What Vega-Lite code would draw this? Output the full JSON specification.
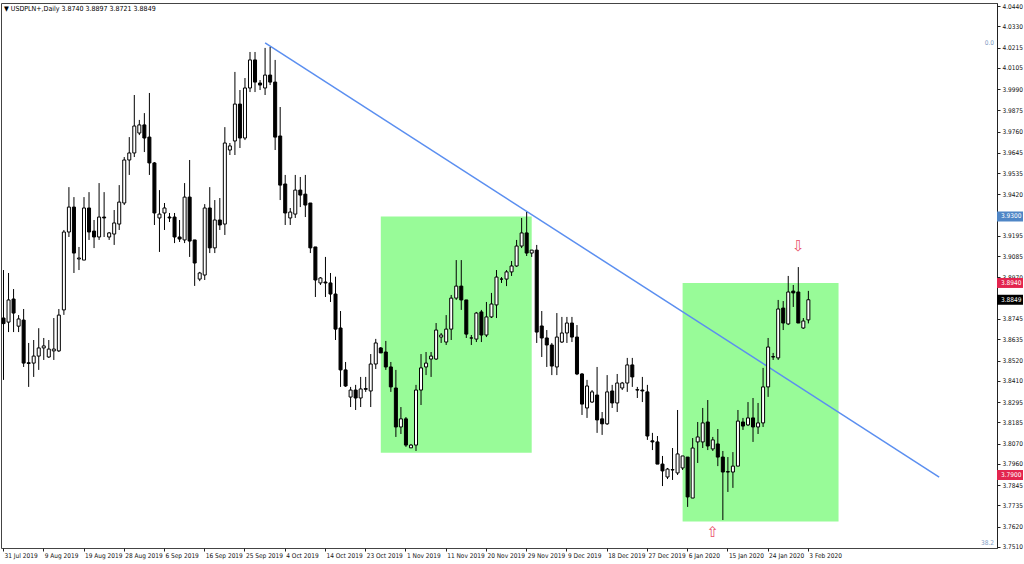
{
  "$schema": "https://vega.github.io/schema/vega-lite/v6.json",
  "width": 996,
  "height": 545,
  "autosize": {"type": "none"},
  "padding": {"left": 1, "top": 3, "right": 27, "bottom": 16},
  "background": "white",
  "title": {
    "text": "▼ USDPLN+,Daily  3.8740 3.8897 3.8721 3.8849",
    "anchor": "start",
    "orient": "top",
    "baseline": "top",
    "offset": -9,
    "dx": 3,
    "font": "DejaVu Sans Condensed, Liberation Sans Narrow, Liberation Sans",
    "fontSize": 7,
    "fontWeight": "normal",
    "color": "#000"
  },
  "config": {
    "view": {"stroke": "#444", "strokeWidth": 1},
    "axis": {
      "labelFont": "DejaVu Sans Condensed, Liberation Sans Narrow, Liberation Sans",
      "labelFontSize": 6.5,
      "labelColor": "#111",
      "tickColor": "#222",
      "domainColor": "#222",
      "grid": false,
      "title": null,
      "labelOverlap": false
    },
    "axisY": {"labelOverlap": false, "labelFontSize": 6.5},
    "axisX": {"labelOverlap": false, "labelFontSize": 6.5}
  },
  "datasets": {
    "candles": [
      {"d":"31 Jul 2019","o":3.8750,"h":3.9010,"l":3.8415,"c":3.8720},
      {"d":"1 Aug 2019","o":3.8728,"h":3.8994,"l":3.8674,"c":3.8848},
      {"d":"2 Aug 2019","o":3.8853,"h":3.8907,"l":3.8674,"c":3.8777},
      {"d":"4 Aug 2019","o":3.8706,"h":3.8766,"l":3.8674,"c":3.8745},
      {"d":"5 Aug 2019","o":3.8739,"h":3.8799,"l":3.8485,"c":3.8506},
      {"d":"6 Aug 2019","o":3.8508,"h":3.8615,"l":3.8377,"c":3.8504},
      {"d":"7 Aug 2019","o":3.8506,"h":3.8631,"l":3.8431,"c":3.8544},
      {"d":"8 Aug 2019","o":3.8544,"h":3.8695,"l":3.8469,"c":3.8588},
      {"d":"9 Aug 2019","o":3.8588,"h":3.8642,"l":3.8523,"c":3.8599},
      {"d":"11 Aug 2019","o":3.8539,"h":3.8631,"l":3.8534,"c":3.8582},
      {"d":"12 Aug 2019","o":3.8572,"h":3.8750,"l":3.8523,"c":3.8582},
      {"d":"13 Aug 2019","o":3.8572,"h":3.8799,"l":3.8566,"c":3.8766},
      {"d":"14 Aug 2019","o":3.8794,"h":3.9227,"l":3.8767,"c":3.9216},
      {"d":"15 Aug 2019","o":3.9216,"h":3.9459,"l":3.9189,"c":3.9351},
      {"d":"16 Aug 2019","o":3.9351,"h":3.9405,"l":3.8994,"c":3.9102},
      {"d":"18 Aug 2019","o":3.9070,"h":3.9135,"l":3.9010,"c":3.9075},
      {"d":"19 Aug 2019","o":3.9064,"h":3.9405,"l":3.9064,"c":3.9346},
      {"d":"20 Aug 2019","o":3.9346,"h":3.9432,"l":3.9173,"c":3.9216},
      {"d":"21 Aug 2019","o":3.9221,"h":3.9281,"l":3.9129,"c":3.9189},
      {"d":"22 Aug 2019","o":3.9189,"h":3.9481,"l":3.9173,"c":3.9297},
      {"d":"23 Aug 2019","o":3.9297,"h":3.9432,"l":3.9189,"c":3.9292},
      {"d":"25 Aug 2019","o":3.9189,"h":3.9216,"l":3.9173,"c":3.9211},
      {"d":"26 Aug 2019","o":3.9205,"h":3.9335,"l":3.9146,"c":3.9265},
      {"d":"27 Aug 2019","o":3.9259,"h":3.9470,"l":3.9227,"c":3.9378},
      {"d":"28 Aug 2019","o":3.9373,"h":3.9622,"l":3.9362,"c":3.9606},
      {"d":"29 Aug 2019","o":3.9606,"h":3.9730,"l":3.9525,"c":3.9644},
      {"d":"30 Aug 2019","o":3.9644,"h":3.9958,"l":3.9622,"c":3.9790},
      {"d":"1 Sep 2019","o":3.9752,"h":3.9823,"l":3.9741,"c":3.9796},
      {"d":"2 Sep 2019","o":3.9796,"h":3.9860,"l":3.9649,"c":3.9725},
      {"d":"3 Sep 2019","o":3.9730,"h":3.9969,"l":3.9525,"c":3.9590},
      {"d":"4 Sep 2019","o":3.9590,"h":3.9595,"l":3.9254,"c":3.9319},
      {"d":"5 Sep 2019","o":3.9292,"h":3.9443,"l":3.9108,"c":3.9313},
      {"d":"6 Sep 2019","o":3.9319,"h":3.9373,"l":3.9227,"c":3.9346},
      {"d":"8 Sep 2019","o":3.9297,"h":3.9319,"l":3.9270,"c":3.9292},
      {"d":"9 Sep 2019","o":3.9297,"h":3.9319,"l":3.9156,"c":3.9189},
      {"d":"10 Sep 2019","o":3.9189,"h":3.9281,"l":3.9162,"c":3.9178},
      {"d":"11 Sep 2019","o":3.9173,"h":3.9481,"l":3.9156,"c":3.9405},
      {"d":"12 Sep 2019","o":3.9405,"h":3.9606,"l":3.9081,"c":3.9167},
      {"d":"13 Sep 2019","o":3.9173,"h":3.9173,"l":3.8924,"c":3.9048},
      {"d":"15 Sep 2019","o":3.8961,"h":3.9000,"l":3.8950,"c":3.8994},
      {"d":"16 Sep 2019","o":3.8983,"h":3.9367,"l":3.8956,"c":3.9346},
      {"d":"17 Sep 2019","o":3.9346,"h":3.9459,"l":3.9102,"c":3.9130},
      {"d":"18 Sep 2019","o":3.9130,"h":3.9389,"l":3.9102,"c":3.9281},
      {"d":"19 Sep 2019","o":3.9281,"h":3.9400,"l":3.9227,"c":3.9254},
      {"d":"20 Sep 2019","o":3.9259,"h":3.9784,"l":3.9200,"c":3.9698},
      {"d":"22 Sep 2019","o":3.9660,"h":3.9698,"l":3.9633,"c":3.9682},
      {"d":"23 Sep 2019","o":3.9709,"h":4.0083,"l":3.9633,"c":3.9909},
      {"d":"24 Sep 2019","o":3.9909,"h":3.9985,"l":3.9671,"c":3.9725},
      {"d":"25 Sep 2019","o":3.9725,"h":4.0050,"l":3.9714,"c":3.9996},
      {"d":"26 Sep 2019","o":3.9996,"h":4.0191,"l":3.9974,"c":4.0148},
      {"d":"27 Sep 2019","o":4.0148,"h":4.0191,"l":3.9974,"c":4.0028},
      {"d":"29 Sep 2019","o":4.0023,"h":4.0039,"l":3.9985,"c":4.0012},
      {"d":"30 Sep 2019","o":3.9996,"h":4.0213,"l":3.9958,"c":4.0066},
      {"d":"1 Oct 2019","o":4.0066,"h":4.0218,"l":4.0012,"c":4.0028},
      {"d":"2 Oct 2019","o":4.0028,"h":4.0148,"l":3.9660,"c":3.9730},
      {"d":"3 Oct 2019","o":3.9736,"h":3.9893,"l":3.9389,"c":3.9470},
      {"d":"4 Oct 2019","o":3.9476,"h":3.9525,"l":3.9254,"c":3.9319},
      {"d":"6 Oct 2019","o":3.9292,"h":3.9346,"l":3.9254,"c":3.9324},
      {"d":"7 Oct 2019","o":3.9313,"h":3.9525,"l":3.9292,"c":3.9443},
      {"d":"8 Oct 2019","o":3.9443,"h":3.9514,"l":3.9351,"c":3.9416},
      {"d":"9 Oct 2019","o":3.9421,"h":3.9525,"l":3.9297,"c":3.9362},
      {"d":"10 Oct 2019","o":3.9373,"h":3.9373,"l":3.9102,"c":3.9130},
      {"d":"11 Oct 2019","o":3.9135,"h":3.9135,"l":3.8864,"c":3.8956},
      {"d":"13 Oct 2019","o":3.8940,"h":3.8972,"l":3.8929,"c":3.8967},
      {"d":"14 Oct 2019","o":3.8945,"h":3.9081,"l":3.8864,"c":3.8940},
      {"d":"15 Oct 2019","o":3.8940,"h":3.8994,"l":3.8837,"c":3.8880},
      {"d":"16 Oct 2019","o":3.8880,"h":3.8974,"l":3.8631,"c":3.8690},
      {"d":"17 Oct 2019","o":3.8696,"h":3.8788,"l":3.8377,"c":3.8469},
      {"d":"18 Oct 2019","o":3.8469,"h":3.8512,"l":3.8377,"c":3.8382},
      {"d":"20 Oct 2019","o":3.8322,"h":3.8377,"l":3.8268,"c":3.8360},
      {"d":"21 Oct 2019","o":3.8360,"h":3.8388,"l":3.8252,"c":3.8317},
      {"d":"22 Oct 2019","o":3.8317,"h":3.8431,"l":3.8268,"c":3.8366},
      {"d":"23 Oct 2019","o":3.8368,"h":3.8431,"l":3.8350,"c":3.8364},
      {"d":"24 Oct 2019","o":3.8355,"h":3.8555,"l":3.8268,"c":3.8501},
      {"d":"25 Oct 2019","o":3.8501,"h":3.8637,"l":3.8474,"c":3.8615},
      {"d":"27 Oct 2019","o":3.8588,"h":3.8593,"l":3.8561,"c":3.8561},
      {"d":"28 Oct 2019","o":3.8566,"h":3.8626,"l":3.8469,"c":3.8485},
      {"d":"29 Oct 2019","o":3.8485,"h":3.8512,"l":3.8350,"c":3.8377},
      {"d":"30 Oct 2019","o":3.8371,"h":3.8469,"l":3.8106,"c":3.8160},
      {"d":"31 Oct 2019","o":3.8160,"h":3.8268,"l":3.8122,"c":3.8204},
      {"d":"1 Nov 2019","o":3.8204,"h":3.8214,"l":3.8052,"c":3.8062},
      {"d":"3 Nov 2019","o":3.8047,"h":3.8068,"l":3.8047,"c":3.8062},
      {"d":"4 Nov 2019","o":3.8062,"h":3.8388,"l":3.8030,"c":3.8360},
      {"d":"5 Nov 2019","o":3.8360,"h":3.8555,"l":3.8279,"c":3.8480},
      {"d":"6 Nov 2019","o":3.8485,"h":3.8566,"l":3.8441,"c":3.8506},
      {"d":"7 Nov 2019","o":3.8528,"h":3.8566,"l":3.8431,"c":3.8544},
      {"d":"8 Nov 2019","o":3.8528,"h":3.8723,"l":3.8523,"c":3.8685},
      {"d":"10 Nov 2019","o":3.8647,"h":3.8669,"l":3.8615,"c":3.8658},
      {"d":"11 Nov 2019","o":3.8620,"h":3.8766,"l":3.8604,"c":3.8690},
      {"d":"12 Nov 2019","o":3.8690,"h":3.8875,"l":3.8631,"c":3.8858},
      {"d":"13 Nov 2019","o":3.8858,"h":3.9064,"l":3.8848,"c":3.8923},
      {"d":"14 Nov 2019","o":3.8923,"h":3.9064,"l":3.8794,"c":3.8848},
      {"d":"15 Nov 2019","o":3.8848,"h":3.8848,"l":3.8642,"c":3.8663},
      {"d":"17 Nov 2019","o":3.8642,"h":3.8658,"l":3.8604,"c":3.8642},
      {"d":"18 Nov 2019","o":3.8636,"h":3.8783,"l":3.8620,"c":3.8777},
      {"d":"19 Nov 2019","o":3.8783,"h":3.8794,"l":3.8620,"c":3.8658},
      {"d":"20 Nov 2019","o":3.8658,"h":3.8837,"l":3.8647,"c":3.8756},
      {"d":"21 Nov 2019","o":3.8756,"h":3.8886,"l":3.8750,"c":3.8826},
      {"d":"22 Nov 2019","o":3.8821,"h":3.9010,"l":3.8750,"c":3.8972},
      {"d":"24 Nov 2019","o":3.8961,"h":3.8972,"l":3.8940,"c":3.8961},
      {"d":"25 Nov 2019","o":3.8961,"h":3.9010,"l":3.8923,"c":3.9000},
      {"d":"26 Nov 2019","o":3.9000,"h":3.9059,"l":3.8978,"c":3.9032},
      {"d":"27 Nov 2019","o":3.9032,"h":3.9173,"l":3.9027,"c":3.9140},
      {"d":"28 Nov 2019","o":3.9140,"h":3.9292,"l":3.9129,"c":3.9211},
      {"d":"29 Nov 2019","o":3.9211,"h":3.9324,"l":3.9086,"c":3.9102},
      {"d":"1 Dec 2019","o":3.9102,"h":3.9118,"l":3.9081,"c":3.9118},
      {"d":"2 Dec 2019","o":3.9118,"h":3.9146,"l":3.8615,"c":3.8674},
      {"d":"3 Dec 2019","o":3.8707,"h":3.8788,"l":3.8539,"c":3.8642},
      {"d":"4 Dec 2019","o":3.8642,"h":3.8685,"l":3.8485,"c":3.8604},
      {"d":"5 Dec 2019","o":3.8604,"h":3.8615,"l":3.8441,"c":3.8490},
      {"d":"6 Dec 2019","o":3.8485,"h":3.8777,"l":3.8441,"c":3.8647},
      {"d":"8 Dec 2019","o":3.8620,"h":3.8756,"l":3.8615,"c":3.8669},
      {"d":"9 Dec 2019","o":3.8669,"h":3.8756,"l":3.8615,"c":3.8723},
      {"d":"10 Dec 2019","o":3.8723,"h":3.8756,"l":3.8620,"c":3.8647},
      {"d":"11 Dec 2019","o":3.8647,"h":3.8712,"l":3.8441,"c":3.8447},
      {"d":"12 Dec 2019","o":3.8447,"h":3.8452,"l":3.8225,"c":3.8284},
      {"d":"13 Dec 2019","o":3.8263,"h":3.8415,"l":3.8209,"c":3.8382},
      {"d":"15 Dec 2019","o":3.8295,"h":3.8360,"l":3.8290,"c":3.8350},
      {"d":"16 Dec 2019","o":3.8333,"h":3.8485,"l":3.8128,"c":3.8198},
      {"d":"17 Dec 2019","o":3.8204,"h":3.8241,"l":3.8117,"c":3.8177},
      {"d":"18 Dec 2019","o":3.8177,"h":3.8441,"l":3.8171,"c":3.8350},
      {"d":"19 Dec 2019","o":3.8355,"h":3.8388,"l":3.8263,"c":3.8290},
      {"d":"20 Dec 2019","o":3.8290,"h":3.8447,"l":3.8241,"c":3.8398},
      {"d":"22 Dec 2019","o":3.8371,"h":3.8404,"l":3.8360,"c":3.8398},
      {"d":"23 Dec 2019","o":3.8398,"h":3.8534,"l":3.8350,"c":3.8496},
      {"d":"24 Dec 2019","o":3.8496,"h":3.8534,"l":3.8377,"c":3.8431},
      {"d":"25 Dec 2019","o":3.8362,"h":3.8377,"l":3.8317,"c":3.8360},
      {"d":"26 Dec 2019","o":3.8360,"h":3.8431,"l":3.8295,"c":3.8355},
      {"d":"27 Dec 2019","o":3.8350,"h":3.8388,"l":3.8090,"c":3.8111},
      {"d":"29 Dec 2019","o":3.8085,"h":3.8128,"l":3.8035,"c":3.8079},
      {"d":"30 Dec 2019","o":3.8079,"h":3.8111,"l":3.7959,"c":3.7959},
      {"d":"31 Dec 2019","o":3.7959,"h":3.8003,"l":3.7840,"c":3.7922},
      {"d":"1 Jan 2020","o":3.7889,"h":3.7938,"l":3.7878,"c":3.7932},
      {"d":"2 Jan 2020","o":3.7929,"h":3.8046,"l":3.7873,"c":3.7927},
      {"d":"3 Jan 2020","o":3.7911,"h":3.8252,"l":3.7900,"c":3.8014},
      {"d":"5 Jan 2020","o":3.7938,"h":3.8003,"l":3.7927,"c":3.8003},
      {"d":"6 Jan 2020","o":3.7997,"h":3.7997,"l":3.7727,"c":3.7781},
      {"d":"7 Jan 2020","o":3.7775,"h":3.8100,"l":3.7775,"c":3.8046},
      {"d":"8 Jan 2020","o":3.8079,"h":3.8187,"l":3.7965,"c":3.8106},
      {"d":"9 Jan 2020","o":3.8079,"h":3.8263,"l":3.8046,"c":3.8182},
      {"d":"10 Jan 2020","o":3.8187,"h":3.8306,"l":3.8035,"c":3.8057},
      {"d":"12 Jan 2020","o":3.8041,"h":3.8106,"l":3.8030,"c":3.8090},
      {"d":"13 Jan 2020","o":3.8068,"h":3.8149,"l":3.7948,"c":3.7997},
      {"d":"14 Jan 2020","o":3.7997,"h":3.8030,"l":3.7656,"c":3.7916},
      {"d":"15 Jan 2020","o":3.7918,"h":3.7997,"l":3.7808,"c":3.7916},
      {"d":"16 Jan 2020","o":3.7916,"h":3.8024,"l":3.7830,"c":3.7948},
      {"d":"17 Jan 2020","o":3.7948,"h":3.8252,"l":3.7948,"c":3.8192},
      {"d":"19 Jan 2020","o":3.8187,"h":3.8209,"l":3.8144,"c":3.8165},
      {"d":"20 Jan 2020","o":3.8171,"h":3.8295,"l":3.8165,"c":3.8209},
      {"d":"21 Jan 2020","o":3.8209,"h":3.8317,"l":3.8079,"c":3.8160},
      {"d":"22 Jan 2020","o":3.8160,"h":3.8290,"l":3.8122,"c":3.8182},
      {"d":"23 Jan 2020","o":3.8182,"h":3.8480,"l":3.8160,"c":3.8377},
      {"d":"24 Jan 2020","o":3.8377,"h":3.8642,"l":3.8323,"c":3.8593},
      {"d":"26 Jan 2020","o":3.8541,"h":3.8561,"l":3.8523,"c":3.8539},
      {"d":"27 Jan 2020","o":3.8534,"h":3.8848,"l":3.8523,"c":3.8799},
      {"d":"28 Jan 2020","o":3.8804,"h":3.8842,"l":3.8685,"c":3.8723},
      {"d":"29 Jan 2020","o":3.8718,"h":3.8978,"l":3.8712,"c":3.8891},
      {"d":"30 Jan 2020","o":3.8896,"h":3.8929,"l":3.8810,"c":3.8886},
      {"d":"31 Jan 2020","o":3.8891,"h":3.9026,"l":3.8723,"c":3.8723},
      {"d":"2 Feb 2020","o":3.8696,"h":3.8750,"l":3.8691,"c":3.8734},
      {"d":"3 Feb 2020","o":3.8740,"h":3.8897,"l":3.8721,"c":3.8849}
    ],
    "zones": [
      {"z":"A","d":"27 Oct 2019","top":3.9300,"bot":3.8020},
      {"z":"A","d":"1 Dec 2019","top":3.9300,"bot":3.8020},
      {"z":"B","d":"5 Jan 2020","top":3.8940,"bot":3.7648},
      {"z":"B","d":"10 Feb 2020","top":3.8940,"bot":3.7648}
    ],
    "trend": [
      {"d":"30 Sep 2019","p":4.0240},
      {"d":"4 Mar 2020","p":3.7889}
    ],
    "arrows": [
      {"d":"31 Jan 2020","p":3.9140,"t":"⇩"},
      {"d":"12 Jan 2020","p":3.7591,"t":"⇧"}
    ],
    "tags": [
      {"k":"res","p":3.9300,"t":"3.9300"},
      {"k":"top","p":3.8940,"t":"3.8940"},
      {"k":"last","p":3.8849,"t":"3.8849"},
      {"k":"sup","p":3.7900,"t":"3.7900"}
    ],
    "fibs": [
      {"p":4.0218,"t":"0.0"},
      {"p":3.7510,"t":"38.2"}
    ]
  },
  "layer": [
    {
      "encoding": {
        "x": {
          "field": "d",
          "type": "ordinal",
          "scale": {
            "type": "band",
            "paddingInner": 0.4,
            "paddingOuter": 0.2,
            "align": 0.5,
            "domain": ["31 Jul 2019","1 Aug 2019","2 Aug 2019","4 Aug 2019","5 Aug 2019","6 Aug 2019","7 Aug 2019","8 Aug 2019","9 Aug 2019","11 Aug 2019","12 Aug 2019","13 Aug 2019","14 Aug 2019","15 Aug 2019","16 Aug 2019","18 Aug 2019","19 Aug 2019","20 Aug 2019","21 Aug 2019","22 Aug 2019","23 Aug 2019","25 Aug 2019","26 Aug 2019","27 Aug 2019","28 Aug 2019","29 Aug 2019","30 Aug 2019","1 Sep 2019","2 Sep 2019","3 Sep 2019","4 Sep 2019","5 Sep 2019","6 Sep 2019","8 Sep 2019","9 Sep 2019","10 Sep 2019","11 Sep 2019","12 Sep 2019","13 Sep 2019","15 Sep 2019","16 Sep 2019","17 Sep 2019","18 Sep 2019","19 Sep 2019","20 Sep 2019","22 Sep 2019","23 Sep 2019","24 Sep 2019","25 Sep 2019","26 Sep 2019","27 Sep 2019","29 Sep 2019","30 Sep 2019","1 Oct 2019","2 Oct 2019","3 Oct 2019","4 Oct 2019","6 Oct 2019","7 Oct 2019","8 Oct 2019","9 Oct 2019","10 Oct 2019","11 Oct 2019","13 Oct 2019","14 Oct 2019","15 Oct 2019","16 Oct 2019","17 Oct 2019","18 Oct 2019","20 Oct 2019","21 Oct 2019","22 Oct 2019","23 Oct 2019","24 Oct 2019","25 Oct 2019","27 Oct 2019","28 Oct 2019","29 Oct 2019","30 Oct 2019","31 Oct 2019","1 Nov 2019","3 Nov 2019","4 Nov 2019","5 Nov 2019","6 Nov 2019","7 Nov 2019","8 Nov 2019","10 Nov 2019","11 Nov 2019","12 Nov 2019","13 Nov 2019","14 Nov 2019","15 Nov 2019","17 Nov 2019","18 Nov 2019","19 Nov 2019","20 Nov 2019","21 Nov 2019","22 Nov 2019","24 Nov 2019","25 Nov 2019","26 Nov 2019","27 Nov 2019","28 Nov 2019","29 Nov 2019","1 Dec 2019","2 Dec 2019","3 Dec 2019","4 Dec 2019","5 Dec 2019","6 Dec 2019","8 Dec 2019","9 Dec 2019","10 Dec 2019","11 Dec 2019","12 Dec 2019","13 Dec 2019","15 Dec 2019","16 Dec 2019","17 Dec 2019","18 Dec 2019","19 Dec 2019","20 Dec 2019","22 Dec 2019","23 Dec 2019","24 Dec 2019","25 Dec 2019","26 Dec 2019","27 Dec 2019","29 Dec 2019","30 Dec 2019","31 Dec 2019","1 Jan 2020","2 Jan 2020","3 Jan 2020","5 Jan 2020","6 Jan 2020","7 Jan 2020","8 Jan 2020","9 Jan 2020","10 Jan 2020","12 Jan 2020","13 Jan 2020","14 Jan 2020","15 Jan 2020","16 Jan 2020","17 Jan 2020","19 Jan 2020","20 Jan 2020","21 Jan 2020","22 Jan 2020","23 Jan 2020","24 Jan 2020","26 Jan 2020","27 Jan 2020","28 Jan 2020","29 Jan 2020","30 Jan 2020","31 Jan 2020","2 Feb 2020","3 Feb 2020","4 Feb 2020","5 Feb 2020","6 Feb 2020","7 Feb 2020","9 Feb 2020","10 Feb 2020","11 Feb 2020","12 Feb 2020","13 Feb 2020","14 Feb 2020","16 Feb 2020","17 Feb 2020","18 Feb 2020","19 Feb 2020","20 Feb 2020","21 Feb 2020","23 Feb 2020","24 Feb 2020","25 Feb 2020","26 Feb 2020","27 Feb 2020","28 Feb 2020","1 Mar 2020","2 Mar 2020","3 Mar 2020","4 Mar 2020","5 Mar 2020","6 Mar 2020","8 Mar 2020","9 Mar 2020","10 Mar 2020","11 Mar 2020","12 Mar 2020","13 Mar 2020","15 Mar 2020","16 Mar 2020","17 Mar 2020"]
          },
          "axis": {
            "orient": "bottom",
            "values": ["31 Jul 2019","9 Aug 2019","19 Aug 2019","28 Aug 2019","6 Sep 2019","16 Sep 2019","25 Sep 2019","4 Oct 2019","14 Oct 2019","23 Oct 2019","1 Nov 2019","11 Nov 2019","20 Nov 2019","29 Nov 2019","9 Dec 2019","18 Dec 2019","27 Dec 2019","6 Jan 2020","15 Jan 2020","24 Jan 2020","3 Feb 2020"],
            "labelAngle": 0,
            "labelAlign": "left",
            "labelBaseline": "top",
            "labelOffset": 1,
            "labelPadding": 1,
            "tickSize": 3,
            "labelOverlap": false,
            "labelFontSize": 6.5,
            "domain": false
          }
        }
      },
      "layer": [
        {
          "data": {"name": "zones"},
          "mark": {"type": "area", "color": "#98fb98", "opacity": 1},
          "encoding": {
            "y": {"field": "top", "type": "quantitative", "scale": {"domain": [3.75045, 4.04563], "zero": false, "nice": false}},
            "y2": {"field": "bot"},
            "detail": {"field": "z"}
          }
        },
        {
          "data": {"name": "trend"},
          "mark": {"type": "line", "color": "#5b8ff0", "strokeWidth": 1.5},
          "encoding": {
            "y": {"field": "p", "type": "quantitative", "scale": {"domain": [3.75045, 4.04563], "zero": false, "nice": false}}
          }
        },
        {
          "data": {"name": "candles"},
          "mark": {"type": "rule", "color": "#000", "strokeWidth": 1},
          "encoding": {
            "y": {
              "field": "l",
              "type": "quantitative",
              "scale": {"domain": [3.75045, 4.04563], "zero": false, "nice": false},
              "axis": {
                "orient": "right",
                "values": [4.044,4.033,4.0215,4.0105,3.999,3.9875,3.976,3.9645,3.9535,3.942,3.9195,3.9085,3.897,3.8745,3.8635,3.852,3.841,3.8295,3.8185,3.807,3.796,3.7845,3.7735,3.762,3.751],
                "tickCount": 200,
                "format": ".4f",
                "tickSize": 3,
                "labelPadding": 2,
                "labelFontSize": 6.5,
                "labelOverlap": false,
                "labelBound": false
              }
            },
            "y2": {"field": "h"}
          }
        },
        {
          "data": {"name": "candles"},
          "mark": {"type": "bar", "stroke": "#000", "strokeWidth": 1},
          "encoding": {
            "y": {"field": "o", "type": "quantitative", "scale": {"domain": [3.75045, 4.04563], "zero": false, "nice": false}},
            "y2": {"field": "c"},
            "fill": {"condition": {"test": "datum.c >= datum.o", "value": "#ffffff"}, "value": "#000000"}
          }
        },
        {
          "data": {"name": "arrows"},
          "mark": {"type": "text", "color": "#e8506a", "fontSize": 15, "font": "DejaVu Sans", "baseline": "middle", "align": "center"},
          "encoding": {
            "y": {"field": "p", "type": "quantitative", "scale": {"domain": [3.75045, 4.04563], "zero": false, "nice": false}},
            "text": {"field": "t"}
          }
        }
      ]
    },
    {
      "mark": {"type": "rule", "color": "#8aa2bc", "strokeWidth": 1, "strokeDash": [2, 2]},
      "encoding": {"y": {"datum": 4.0218, "type": "quantitative", "scale": {"domain": [3.75045, 4.04563], "zero": false, "nice": false}}}
    },
    {
      "mark": {"type": "rule", "color": "#9cb8d6", "strokeWidth": 1},
      "encoding": {"y": {"datum": 3.9300, "type": "quantitative"}}
    },
    {
      "mark": {"type": "rule", "color": "#e8809a", "strokeWidth": 1},
      "encoding": {"y": {"datum": 3.8940, "type": "quantitative"}}
    },
    {
      "mark": {"type": "rule", "color": "#d0d0d0", "strokeWidth": 1},
      "encoding": {"y": {"datum": 3.8849, "type": "quantitative"}}
    },
    {
      "mark": {"type": "rule", "color": "#b04060", "strokeWidth": 1},
      "encoding": {"y": {"datum": 3.7900, "type": "quantitative"}}
    },
    {
      "data": {"name": "tags"},
      "mark": {"type": "tick", "orient": "horizontal", "size": 26, "thickness": 10, "xOffset": 13, "opacity": 1},
      "encoding": {
        "x": {"value": "width"},
        "y": {"field": "p", "type": "quantitative"},
        "color": {"field": "k", "type": "nominal", "legend": null, "scale": {"domain": ["res", "top", "last", "sup"], "range": ["#4f86c6", "#e3254f", "#000000", "#e3254f"]}}
      }
    },
    {
      "data": {"name": "tags"},
      "mark": {"type": "text", "color": "#ffffff", "fontSize": 6.5, "font": "DejaVu Sans Condensed, Liberation Sans Narrow, Liberation Sans", "align": "left", "baseline": "middle", "dx": 4},
      "encoding": {
        "x": {"value": "width"},
        "y": {"field": "p", "type": "quantitative"},
        "text": {"field": "t"}
      }
    },
    {
      "data": {"name": "fibs"},
      "mark": {"type": "text", "color": "#7f9cc4", "fontSize": 6.5, "font": "DejaVu Sans Condensed, Liberation Sans Narrow, Liberation Sans", "align": "right", "baseline": "bottom", "dx": -3, "dy": -1},
      "encoding": {
        "x": {"value": "width"},
        "y": {"field": "p", "type": "quantitative"},
        "text": {"field": "t"}
      }
    }
  ]
}
